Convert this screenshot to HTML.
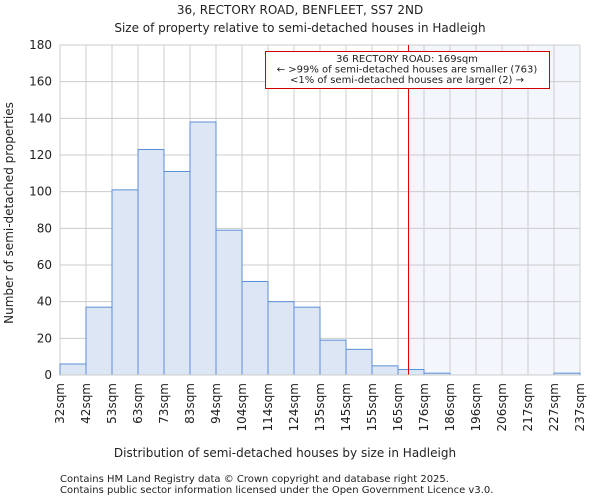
<!DOCTYPE html>
<html><head><meta charset="utf-8"><style>
body{margin:0;background:#fff;font-family:"DejaVu Sans","Liberation Sans",sans-serif;}
svg text{font-family:"DejaVu Sans","Liberation Sans",sans-serif;fill:#222;}
</style></head><body>
<svg id="c" width="600" height="500" xmlns="http://www.w3.org/2000/svg">
<text x="300" y="14" text-anchor="middle" font-size="12">36, RECTORY ROAD, BENFLEET, SS7 2ND</text>
<text x="300" y="32" text-anchor="middle" font-size="12">Size of property relative to semi-detached houses in Hadleigh</text>
<g id="grid"></g><g id="bars"></g><g id="ann"></g><g id="axes"></g>
<text x="285" y="457" text-anchor="middle" font-size="12">Distribution of semi-detached houses by size in Hadleigh</text>
<text transform="translate(13,213) rotate(-90)" text-anchor="middle" font-size="12">Number of semi-detached properties</text>
<text x="60" y="482" font-size="10" fill="#444">Contains HM Land Registry data © Crown copyright and database right 2025.</text>
<text x="60" y="493" font-size="10" fill="#444">Contains public sector information licensed under the Open Government Licence v3.0.</text>
</svg>
<script>
const categories=["32sqm","42sqm","53sqm","63sqm","73sqm","83sqm","94sqm","104sqm","114sqm","124sqm","135sqm","145sqm","155sqm","165sqm","176sqm","186sqm","196sqm","206sqm","217sqm","227sqm","237sqm"];
const binEdges=[32,42,53,63,73,83,94,104,114,124,135,145,155,165,176,186,196,206,217,227,237];
const counts=[6,37,101,123,111,138,79,51,40,37,19,14,5,3,1,0,0,0,0,1];
const yTicks=[0,20,40,60,80,100,120,140,160,180];
const subjectSize=169;
const L=60,R=580,T=45,B=375,yMax=180;
const n=counts.length,bw=(R-L)/n;
const NS="http://www.w3.org/2000/svg";
function y(v){return B-(v/yMax)*(B-T);}
function xi(i){return L+i*bw;}
function xs(s){let i=0;while(i<binEdges.length-2&&s>binEdges[i+1])i++;return xi(i)+bw*(s-binEdges[i])/(binEdges[i+1]-binEdges[i]);}
function mk(t,a,p){const e=document.createElementNS(NS,t);for(const k in a)e.setAttribute(k,a[k]);p.appendChild(e);return e;}
const grid=document.getElementById('grid'),bars=document.getElementById('bars'),ann=document.getElementById('ann'),axes=document.getElementById('axes');
const sx=Math.round(xs(subjectSize))+1.5;
const sh=mk('rect',{x:sx,y:T,width:R-sx,height:B-T,fill:'#f3f6fd'},grid);


yTicks.forEach(v=>{const l=mk('line',{x1:L,x2:R,y1:y(v),y2:y(v),stroke:'#ccc'},grid);


const t=mk('text',{x:L-8,y:y(v)+4,'text-anchor':'end','font-size':12},axes);t.textContent=v;

});
categories.forEach((c,i)=>{const x=xi(i);const l=mk('line',{x1:x,x2:x,y1:T,y2:B,stroke:'#ccc'},grid);


const t=mk('text',{transform:`translate(${x+4},${B+8}) rotate(-90)`,'text-anchor':'end','font-size':12},axes);t.textContent=c;

});
counts.forEach((v,i)=>{if(v<=0)return;const r=mk('rect',{x:xi(i),y:y(v),width:bw,height:B-y(v),fill:'#dce6f4',stroke:'#5b8fd6','stroke-width':1},bars);

});
const ax=mk('line',{x1:L,x2:R,y1:B,y2:B,stroke:'#ccc'},axes);


const rl=mk('line',{x1:sx,x2:sx,y1:T,y2:B,stroke:'#e00000','stroke-width':1},ann);


const box=mk('rect',{x:265.5,y:51.5,width:284,height:37,fill:'#fff',stroke:'#d00000'},ann);


["36 RECTORY ROAD: "+subjectSize+"sqm","← >99% of semi-detached houses are smaller (763)","<1% of semi-detached houses are larger (2) →"].forEach((s,i)=>{const t=mk('text',{x:407,y:62+i*10.5,'text-anchor':'middle','font-size':10},ann);t.textContent=s;

});
</script>
</body></html>
